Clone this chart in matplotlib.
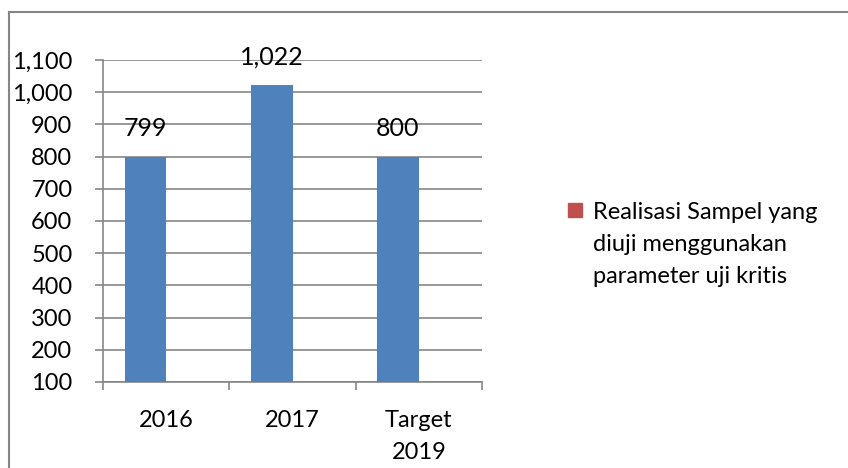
import matplotlib.pyplot as plt
from matplotlib.patches import Rectangle
from matplotlib.lines import Line2D

categories = ["2016", "2017", "Target\n2019"]
values = [799, 1022, 800]
labels = ["799", "1,022", "800"]
yticks = [100, 200, 300, 400, 500, 600, 700, 800, 900, 1000, 1100]
legend_label = "Realisasi Sampel yang\ndiuji menggunakan\nparameter uji kritis"

plt.rcParams["font.family"] = ["Lato", "DejaVu Sans"]

W, H = 848, 468
fig = plt.figure(figsize=(W / 100, H / 100), dpi=100)
ax = fig.add_axes([0.1215, 0.1838, 0.4469, 0.688])

# two-series cluster: the second (red) series is empty, so the blue bars sit left
bw = 0.33
xs = [i - bw / 2 for i in range(len(categories))]
ax.bar(xs, values, width=bw, color="#4F81BD", zorder=3)

for xi, v, lab in zip(xs, values, labels):
    ax.annotate(lab, (xi, v), xytext=(0, 12), textcoords="offset points",
                ha="center", va="bottom", fontsize=18, color="black")

ax.set_ylim(100, 1100)
ax.set_xlim(-0.5, 2.5)
ax.set_yticks(yticks)
ax.set_yticklabels([f"{t:,}" for t in yticks], fontsize=17)
ax.yaxis.grid(True, color="#868686", lw=1.2, zorder=0)

# categories between tick marks
ax.set_xticks([-0.5, 0.5, 1.5, 2.5])
ax.set_xticklabels([])
ax.set_xticks(range(len(categories)), minor=True)
ax.set_xticklabels(categories, minor=True, fontsize=17, linespacing=1.65)
ax.tick_params(axis="x", which="minor", length=0, pad=20)
ax.tick_params(axis="x", which="major", length=6, color="#868686", width=1.2)
ax.tick_params(axis="y", length=6, color="#868686", width=1.2, pad=16)

for s in ["top", "right"]:
    ax.spines[s].set_visible(False)
for s in ["left", "bottom"]:
    ax.spines[s].set_color("#868686")
    ax.spines[s].set_linewidth(1.2)

# legend (marker aligned with first line, like the original)
fig.add_artist(Rectangle((568 / W, 1 - 217 / H), 14 / W, 14 / H,
                         transform=fig.transFigure, color="#C0504D"))
for k, line in enumerate(legend_label.split("\n")):
    fig.text(593 / W, 1 - (219 + 32 * k) / H, line, ha="left", va="baseline",
             fontsize=17)

# chart border (top and left visible)
fig.add_artist(Line2D([9 / W, 1.0], [1 - 12 / H, 1 - 12 / H],
                      transform=fig.transFigure, color="#868686", lw=1.5))
fig.add_artist(Line2D([9 / W, 9 / W], [0, 1 - 12 / H],
                      transform=fig.transFigure, color="#868686", lw=1.5))

fig.savefig("out.png", dpi=100)
